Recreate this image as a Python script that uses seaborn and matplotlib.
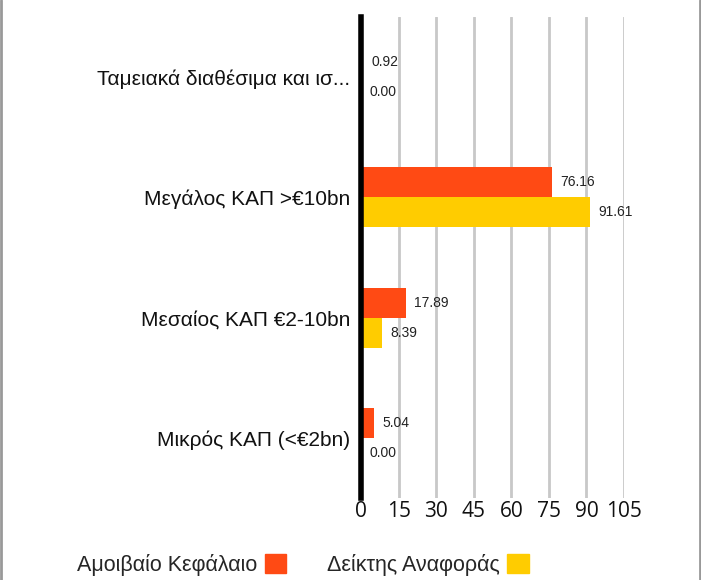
import pandas as pd
import matplotlib
import matplotlib.pyplot as plt
import seaborn as sns
from matplotlib.patches import Patch
from matplotlib.lines import Line2D

categories = ['Ταμειακά διαθέσιμα και ισ...', 'Μεγάλος ΚΑΠ >€10bn',
              'Μεσαίος ΚΑΠ €2-10bn', 'Μικρός ΚΑΠ (<€2bn)']
fund = [0.92, 76.16, 17.89, 5.04]
bench = [0.00, 91.61, 8.39, 0.00]
series = ['Αμοιβαίο Κεφάλαιο', 'Δείκτης Αναφοράς']
xticks = [0, 15, 30, 45, 60, 75, 90, 105]
cols = ['#ff4a14', '#ffcc00']

df = pd.DataFrame({
    'cat': categories * 2,
    'val': fund + bench,
    'series': [series[0]] * 4 + [series[1]] * 4,
})

sns.set_style('white')
matplotlib.rcParams['font.family'] = ['Liberation Sans', 'DejaVu Sans']

fig = plt.figure(figsize=(7.01, 5.80), dpi=100)
ax = fig.add_axes([361 / 701, 1 - 498 / 580, (624 - 361) / 701, (498 - 17) / 580])

sns.barplot(data=df, y='cat', x='val', hue='series', palette=cols, orient='h',
            width=0.5, dodge=True, saturation=1, linewidth=0, ax=ax, legend=False)

for c in ax.containers:
    ax.bar_label(c, fmt='%.2f', padding=6, fontsize=10, color='#222222')

ax.set_xlim(0, 105)
ax.set_ylim(3.5, -0.5)
ax.set_xticks(xticks)
ax.set_xticklabels([str(t) for t in xticks], family='Open Sans', fontsize=15, color='#111111')
ax.tick_params(axis='x', length=0, pad=2)
ax.tick_params(axis='y', length=0, pad=8, labelsize=15, labelcolor='#111111')
ax.set_xlabel('')
ax.set_ylabel('')
for g in xticks[1:]:
    ax.axvline(g, color='#c8c8c8', lw=2, zorder=0)
for s in ['top', 'right', 'bottom']:
    ax.spines[s].set_visible(False)
ax.spines['left'].set_linewidth(4)
ax.spines['left'].set_color('black')
ax.set_zorder(1)

handles = [Patch(color=cols[0]), Patch(color=cols[1])]
fig.legend(handles, series, loc='center', bbox_to_anchor=(303 / 701, 1 - 565 / 580), ncol=2,
           frameon=False, markerfirst=False, handlelength=1.0, handleheight=1.0,
           handletextpad=0.35, columnspacing=1.9, fontsize=15.5, borderpad=0)

# outer frame lines
fig.add_artist(Line2D([1 / 701, 1 / 701], [0, 1], color='#999999', lw=2, transform=fig.transFigure))
fig.add_artist(Line2D([699.5 / 701, 699.5 / 701], [0, 1], color='#999999', lw=2, transform=fig.transFigure))

fig.savefig('out.png', dpi=100)
